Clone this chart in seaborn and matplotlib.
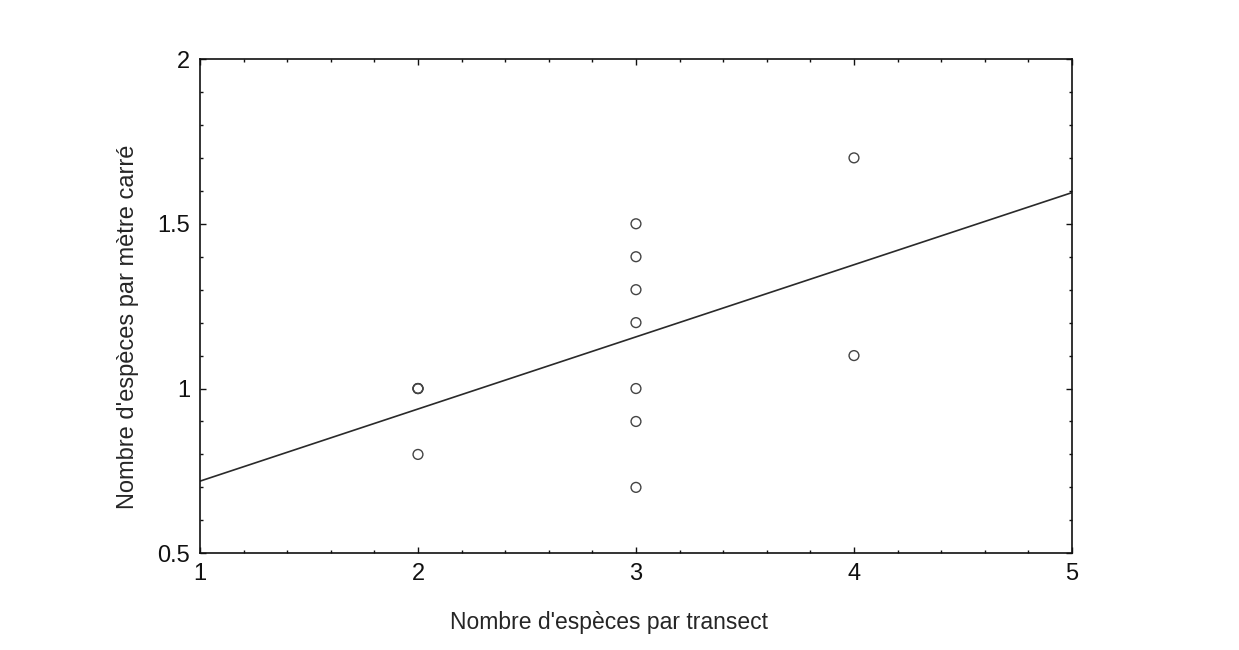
import numpy as np
import pandas as pd
import seaborn as sns
import matplotlib
matplotlib.use("Agg")
import matplotlib.pyplot as plt
from matplotlib.ticker import MultipleLocator

# relevés : espèces par transect / espèces par m2
# (points superposés en (2, 1.0) : trois relevés identiques)
especes_transect = [2, 2, 2, 2, 3, 3, 3, 3, 3, 3, 3, 4, 4]
especes_m2 = [1.0, 1.0, 1.0, 0.8, 1.5, 1.4, 1.3, 1.2, 1.0, 0.9, 0.7, 1.7, 1.1]

df = pd.DataFrame({"transect": especes_transect, "m2": especes_m2})

sns.set_style("ticks")
plt.rcParams['font.family'] = ['Liberation Sans', 'DejaVu Sans']

fig = plt.figure(figsize=(12.39, 6.5), dpi=100)
ax = fig.add_axes([0.1614, 0.1488, 0.7038, 0.7604])
ax.set_xlim(1, 5)
ax.set_ylim(0.5, 2)

sns.regplot(data=df, x="transect", y="m2", ax=ax, ci=None, truncate=False,
            scatter_kws={'s': 50, 'facecolors': 'none', 'color': '#444444',
                         'linewidths': 1.0, 'alpha': 1, 'zorder': 3},
            line_kws={'color': '#2a2a2a', 'lw': 1.2})

ax.set_xlim(1, 5)
ax.set_ylim(0.5, 2)
ax.set_xticks([1, 2, 3, 4, 5])
ax.set_yticks([0.5, 1, 1.5, 2])
ax.set_yticklabels(['0.5', '1', '1.5', '2'])
ax.xaxis.set_minor_locator(MultipleLocator(0.2))
ax.yaxis.set_minor_locator(MultipleLocator(0.1))
ax.tick_params(which='both', direction='in', top=True, right=True,
               colors='#111111', labelsize=17, width=1)
ax.tick_params(which='major', length=4, pad=7)
ax.tick_params(which='minor', length=2.5)
for s in ax.spines.values():
    s.set_linewidth(1.2)
    s.set_color('#111111')

ax.set_xlabel("Nombre d'espèces par transect", fontsize=16.5, labelpad=19)
ax.set_ylabel("Nombre d'espèces par mètre carré", fontsize=17, labelpad=13)
ax.xaxis.label.set_x(0.469)
ax.yaxis.label.set_y(0.459)

fig.savefig("out.png", dpi=100, facecolor='white')
